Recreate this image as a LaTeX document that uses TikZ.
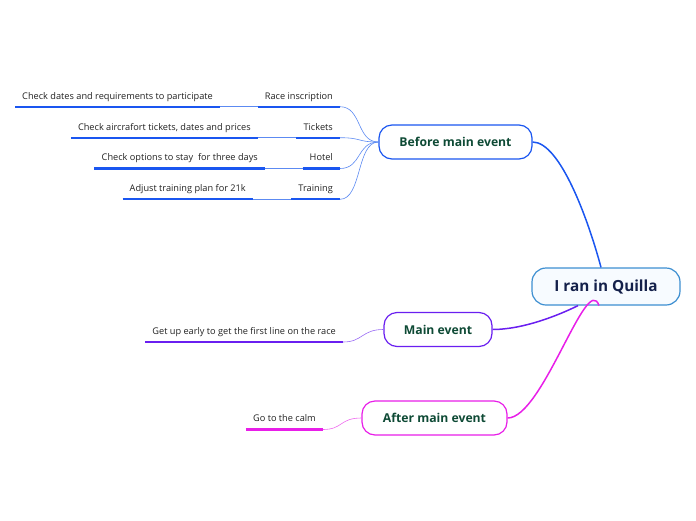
\documentclass[tikz,border=0pt]{standalone}
\usepackage{fontspec}
\setmainfont{Open Sans}
\definecolor{cBlue}{HTML}{1A56F0}
\definecolor{cBlueL}{HTML}{5C8AF2}
\definecolor{cPurp}{HTML}{6A1FF0}
\definecolor{cPurpL}{HTML}{9A6CF4}
\definecolor{cMag}{HTML}{E81EE8}
\definecolor{cMagL}{HTML}{EE6AEE}
\definecolor{cRoot}{HTML}{3D8FD1}
\definecolor{cRootFill}{HTML}{F7FBFF}
\definecolor{cGreen}{HTML}{0E4A35}
\definecolor{cNavy}{HTML}{14204A}
\definecolor{cTxt}{HTML}{222222}
\tikzset{
  rootbox/.style={draw=cRoot, line width=1.2pt, fill=cRootFill, rounded corners=14pt,
    minimum height=37pt, font=\fontsize{15.3}{17}\selectfont\bfseries, text=cNavy},
  branchbox/.style={draw=#1, line width=1.2pt, fill=white, rounded corners=13pt,
    minimum height=34pt, font=\fontsize{12.2}{14}\selectfont\bfseries, text=cGreen},
  leaf/.style={inner xsep=7pt, inner ysep=0pt, text height=6.5pt, text depth=7.5pt,
    font=\fontsize{9.2}{11}\selectfont, text=cTxt, anchor=south east},
  uline/.style={draw=#1, line width=2.2pt},
  thin/.style={draw=#1, line width=0.6pt},
  trunk/.style={draw=#1, line width=1.5pt},
}
\begin{document}
\begin{tikzpicture}[x=1pt,y=-1pt]
\useasboundingbox (0,0) rectangle (696,520);
% main nodes
\node[rootbox, minimum width=148pt] (root) at (606,286.5) {I ran in Quilla};
\node[branchbox=cBlue, minimum width=153pt] (before) at (455.5,142) {Before main event};
\node[branchbox=cPurp, minimum width=108pt] (main) at (438,329.5) {Main event};
\node[branchbox=cMag, minimum width=145pt] (after) at (434.5,418) {After main event};
% leaf nodes
\node[leaf] (race) at (340,106.7) {Race inscription};
\node[leaf] (tick) at (340,137.7) {Tickets};
\node[leaf] (hotel) at (340,168.5) {Hotel};
\node[leaf] (train) at (340,199.3) {Training};
\node[leaf] (dates) at (220,106.7) {Check dates and requirements to participate};
\node[leaf] (air) at (258,137.7) {Check aircrafort tickets, dates and prices};
\node[leaf] (opt) at (265,168.5) {Check options to stay\ \ for three days};
\node[leaf] (adj) at (253,199.3) {Adjust training plan for 21k};
\node[leaf] (early) at (343,342) {Get up early to get the first line on the race};
\node[leaf] (calm) at (323,429.5) {Go to the calm};
% underlines
\foreach \n in {race,tick,hotel,train,dates,air,opt,adj}
  \draw[uline=cBlue] (\n.south west) -- (\n.south east);
\draw[uline=cPurp] (early.south west) -- (early.south east);
\draw[uline=cMag] (calm.south west) -- (calm.south east);
% trunk connectors
\coordinate (rb) at ([xshift=-5pt]root.north);
\coordinate (rm) at ([xshift=-28pt]root.south);
\coordinate (ra) at ([xshift=-7pt]root.south);
\draw[trunk=cBlue] (before.east) .. controls +(28,0) and +(-12,-45) .. (rb);
\draw[trunk=cPurp] (main.east) .. controls +(30,0) and +(-20,10) .. (rm);
\draw[trunk=cMag] (after.east) .. controls +(35,0) and +(-12,-35) .. (ra);
% branch-to-leaf connectors
\foreach \n in {race,tick,hotel,train}
  \draw[thin=cBlueL] (before.west) .. controls +(-22,0) and +(22,0) .. (\n.south east);
\draw[thin=cPurpL] (main.west) .. controls +(-22,0) and +(20,0) .. (early.south east);
\draw[thin=cMagL] (after.west) .. controls +(-22,0) and +(20,0) .. (calm.south east);
% leaf-to-leaf connectors
\draw[thin=cBlueL] (race.south west) -- (dates.south east);
\draw[thin=cBlueL] (tick.south west) -- (air.south east);
\draw[thin=cBlueL] (hotel.south west) -- (opt.south east);
\draw[thin=cBlueL] (train.south west) -- (adj.south east);
\end{tikzpicture}
\end{document}
